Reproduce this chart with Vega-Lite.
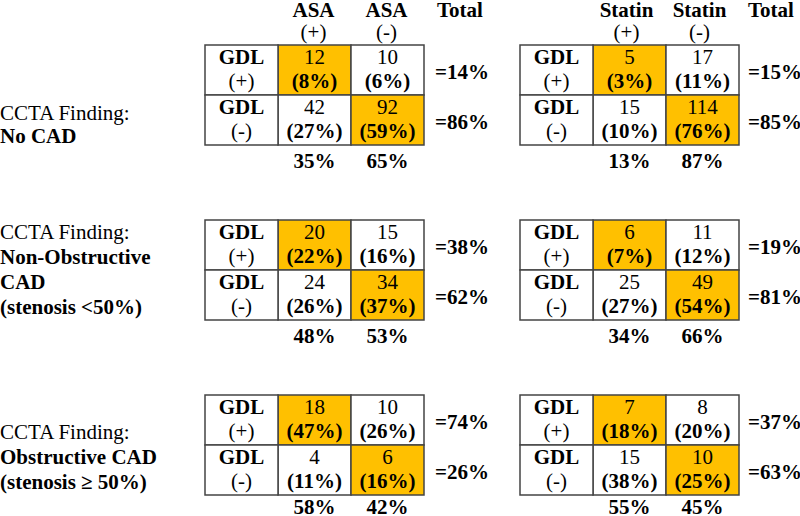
{
  "$schema": "https://vega.github.io/schema/vega-lite/v6.json",
  "padding": 0,
  "background": "white",
  "config": {
    "view": {"stroke": null},
    "axis": {"disable": true},
    "legend": {"disable": true},
    "scale": {"bandPaddingInner": 0, "bandPaddingOuter": 0, "rectBandPaddingInner": 0},
    "font": "Liberation Serif",
    "text": {"font": "Liberation Serif", "fontSize": 21, "fill": "#000000"},
    "concat": {"spacing": 0}
  },
  "datasets": {
    "tab": [
      {"finding": "No CAD", "drug": "ASA", "gdl": "+", "status": "+", "n": 12, "pct": 8},
      {"finding": "No CAD", "drug": "ASA", "gdl": "+", "status": "-", "n": 10, "pct": 6},
      {"finding": "No CAD", "drug": "ASA", "gdl": "-", "status": "+", "n": 42, "pct": 27},
      {"finding": "No CAD", "drug": "ASA", "gdl": "-", "status": "-", "n": 92, "pct": 59},
      {"finding": "No CAD", "drug": "ASA", "gdl": "+", "status": "Total", "pct": 14},
      {"finding": "No CAD", "drug": "ASA", "gdl": "-", "status": "Total", "pct": 86},
      {"finding": "No CAD", "drug": "ASA", "gdl": "Total", "status": "+", "pct": 35},
      {"finding": "No CAD", "drug": "ASA", "gdl": "Total", "status": "-", "pct": 65},
      {"finding": "No CAD", "drug": "Statin", "gdl": "+", "status": "+", "n": 5, "pct": 3},
      {"finding": "No CAD", "drug": "Statin", "gdl": "+", "status": "-", "n": 17, "pct": 11},
      {"finding": "No CAD", "drug": "Statin", "gdl": "-", "status": "+", "n": 15, "pct": 10},
      {"finding": "No CAD", "drug": "Statin", "gdl": "-", "status": "-", "n": 114, "pct": 76},
      {"finding": "No CAD", "drug": "Statin", "gdl": "+", "status": "Total", "pct": 15},
      {"finding": "No CAD", "drug": "Statin", "gdl": "-", "status": "Total", "pct": 85},
      {"finding": "No CAD", "drug": "Statin", "gdl": "Total", "status": "+", "pct": 13},
      {"finding": "No CAD", "drug": "Statin", "gdl": "Total", "status": "-", "pct": 87},
      {"finding": "Non-Obstructive CAD", "drug": "ASA", "gdl": "+", "status": "+", "n": 20, "pct": 22},
      {"finding": "Non-Obstructive CAD", "drug": "ASA", "gdl": "+", "status": "-", "n": 15, "pct": 16},
      {"finding": "Non-Obstructive CAD", "drug": "ASA", "gdl": "-", "status": "+", "n": 24, "pct": 26},
      {"finding": "Non-Obstructive CAD", "drug": "ASA", "gdl": "-", "status": "-", "n": 34, "pct": 37},
      {"finding": "Non-Obstructive CAD", "drug": "ASA", "gdl": "+", "status": "Total", "pct": 38},
      {"finding": "Non-Obstructive CAD", "drug": "ASA", "gdl": "-", "status": "Total", "pct": 62},
      {"finding": "Non-Obstructive CAD", "drug": "ASA", "gdl": "Total", "status": "+", "pct": 48},
      {"finding": "Non-Obstructive CAD", "drug": "ASA", "gdl": "Total", "status": "-", "pct": 53},
      {"finding": "Non-Obstructive CAD", "drug": "Statin", "gdl": "+", "status": "+", "n": 6, "pct": 7},
      {"finding": "Non-Obstructive CAD", "drug": "Statin", "gdl": "+", "status": "-", "n": 11, "pct": 12},
      {"finding": "Non-Obstructive CAD", "drug": "Statin", "gdl": "-", "status": "+", "n": 25, "pct": 27},
      {"finding": "Non-Obstructive CAD", "drug": "Statin", "gdl": "-", "status": "-", "n": 49, "pct": 54},
      {"finding": "Non-Obstructive CAD", "drug": "Statin", "gdl": "+", "status": "Total", "pct": 19},
      {"finding": "Non-Obstructive CAD", "drug": "Statin", "gdl": "-", "status": "Total", "pct": 81},
      {"finding": "Non-Obstructive CAD", "drug": "Statin", "gdl": "Total", "status": "+", "pct": 34},
      {"finding": "Non-Obstructive CAD", "drug": "Statin", "gdl": "Total", "status": "-", "pct": 66},
      {"finding": "Obstructive CAD", "drug": "ASA", "gdl": "+", "status": "+", "n": 18, "pct": 47},
      {"finding": "Obstructive CAD", "drug": "ASA", "gdl": "+", "status": "-", "n": 10, "pct": 26},
      {"finding": "Obstructive CAD", "drug": "ASA", "gdl": "-", "status": "+", "n": 4, "pct": 11},
      {"finding": "Obstructive CAD", "drug": "ASA", "gdl": "-", "status": "-", "n": 6, "pct": 16},
      {"finding": "Obstructive CAD", "drug": "ASA", "gdl": "+", "status": "Total", "pct": 74},
      {"finding": "Obstructive CAD", "drug": "ASA", "gdl": "-", "status": "Total", "pct": 26},
      {"finding": "Obstructive CAD", "drug": "ASA", "gdl": "Total", "status": "+", "pct": 58},
      {"finding": "Obstructive CAD", "drug": "ASA", "gdl": "Total", "status": "-", "pct": 42},
      {"finding": "Obstructive CAD", "drug": "Statin", "gdl": "+", "status": "+", "n": 7, "pct": 18},
      {"finding": "Obstructive CAD", "drug": "Statin", "gdl": "+", "status": "-", "n": 8, "pct": 20},
      {"finding": "Obstructive CAD", "drug": "Statin", "gdl": "-", "status": "+", "n": 15, "pct": 38},
      {"finding": "Obstructive CAD", "drug": "Statin", "gdl": "-", "status": "-", "n": 10, "pct": 25},
      {"finding": "Obstructive CAD", "drug": "Statin", "gdl": "+", "status": "Total", "pct": 37},
      {"finding": "Obstructive CAD", "drug": "Statin", "gdl": "-", "status": "Total", "pct": 63},
      {"finding": "Obstructive CAD", "drug": "Statin", "gdl": "Total", "status": "+", "pct": 55},
      {"finding": "Obstructive CAD", "drug": "Statin", "gdl": "Total", "status": "-", "pct": 45}
    ],
    "labels": [
      {"finding": "No CAD", "line": 1, "text": "CCTA Finding:"},
      {"finding": "No CAD", "line": 2, "text": "No CAD"},
      {"finding": "Non-Obstructive CAD", "line": 1, "text": "CCTA Finding:"},
      {"finding": "Non-Obstructive CAD", "line": 2, "text": "Non-Obstructive"},
      {"finding": "Non-Obstructive CAD", "line": 3, "text": "CAD"},
      {"finding": "Non-Obstructive CAD", "line": 4, "text": "(stenosis <50%)"},
      {"finding": "Obstructive CAD", "line": 1, "text": "CCTA Finding:"},
      {"finding": "Obstructive CAD", "line": 2, "text": "Obstructive CAD"},
      {"finding": "Obstructive CAD", "line": 3, "text": "(stenosis ≥ 50%)"}
    ],
    "columns": [
      {"drug": "ASA", "status": "+"},
      {"drug": "ASA", "status": "-"},
      {"drug": "ASA", "status": "Total"},
      {"drug": "Statin", "status": "+"},
      {"drug": "Statin", "status": "-"},
      {"drug": "Statin", "status": "Total"}
    ]
  },
  "spacing": 46,
  "vconcat": [
    {
      "spacing": 0,
      "vconcat": [
        {
          "spacing": 21,
          "hconcat": [
            {"width": 183, "height": 44, "data": {"values": []}, "mark": "point", "encoding": {}},
            {
              "spacing": 0,
              "hconcat": [
                {
                  "width": 219, "height": 44,
                  "data": {"name": "columns"},
                  "transform": [{"filter": "datum.drug === 'ASA' && datum.status !== 'Total'"}, {"calculate": "'(' + datum.status + ')'", "as": "sign"}],
                  "encoding": {"x": {"field": "status", "type": "nominal", "scale": {"type": "band", "domain": ["GDL", "+", "-"]}}},
                  "layer": [
                    {"mark": {"type": "text", "fontWeight": "bold"}, "encoding": {"y": {"datum": "name", "type": "nominal", "scale": {"type": "band", "domain": ["name", "sign"]}}, "text": {"field": "drug", "type": "nominal"}}},
                    {"mark": {"type": "text"}, "encoding": {"y": {"datum": "sign", "type": "nominal", "scale": {"type": "band", "domain": ["name", "sign"]}}, "text": {"field": "sign", "type": "nominal"}}}
                  ]
                },
                {
                  "width": 73, "height": 44,
                  "data": {"name": "columns"},
                  "transform": [{"filter": "datum.drug === 'ASA' && datum.status === 'Total'"}],
                  "mark": {"type": "text", "fontWeight": "bold", "align": "left", "dx": 14},
                  "encoding": {
                    "x": {"field": "status", "type": "nominal", "bandPosition": 0, "scale": {"type": "band"}},
                    "y": {"datum": "name", "type": "nominal", "scale": {"type": "band", "domain": ["name", "sign"]}},
                    "text": {"field": "status", "type": "nominal"}
                  }
                }
              ]
            },
            {
              "spacing": 0,
              "hconcat": [
                {
                  "width": 219, "height": 44,
                  "data": {"name": "columns"},
                  "transform": [{"filter": "datum.drug === 'Statin' && datum.status !== 'Total'"}, {"calculate": "'(' + datum.status + ')'", "as": "sign"}],
                  "encoding": {"x": {"field": "status", "type": "nominal", "scale": {"type": "band", "domain": ["GDL", "+", "-"]}}},
                  "layer": [
                    {"mark": {"type": "text", "fontWeight": "bold"}, "encoding": {"y": {"datum": "name", "type": "nominal", "scale": {"type": "band", "domain": ["name", "sign"]}}, "text": {"field": "drug", "type": "nominal"}}},
                    {"mark": {"type": "text"}, "encoding": {"y": {"datum": "sign", "type": "nominal", "scale": {"type": "band", "domain": ["name", "sign"]}}, "text": {"field": "sign", "type": "nominal"}}}
                  ]
                },
                {
                  "width": 64, "height": 44,
                  "data": {"name": "columns"},
                  "transform": [{"filter": "datum.drug === 'Statin' && datum.status === 'Total'"}],
                  "mark": {"type": "text", "fontWeight": "bold", "align": "left", "dx": 12},
                  "encoding": {
                    "x": {"field": "status", "type": "nominal", "bandPosition": 0, "scale": {"type": "band"}},
                    "y": {"datum": "name", "type": "nominal", "scale": {"type": "band", "domain": ["name", "sign"]}},
                    "text": {"field": "status", "type": "nominal"}
                  }
                }
              ]
            }
          ]
        },
        {
          "spacing": 21,
          "hconcat": [
            {
              "width": 183, "height": 100,
              "data": {"name": "labels"},
              "transform": [{"filter": "datum.finding === 'No CAD'"}],
              "encoding": {
                "x": {"datum": 0, "type": "quantitative", "scale": {"domain": [0, 1]}},
                "y": {"field": "line", "type": "ordinal", "scale": {"type": "band", "domain": [1, 2], "paddingInner": 0, "paddingOuter": 1, "align": 1}},
                "text": {"field": "text", "type": "nominal"}
              },
              "layer": [
                {"transform": [{"filter": "datum.line === 1"}], "mark": {"type": "text", "align": "left", "dy": 6}},
                {"transform": [{"filter": "datum.line > 1"}], "mark": {"type": "text", "align": "left", "fontWeight": "bold", "dy": 4}}
              ]
            },
            {
              "spacing": 0,
              "hconcat": [
                {
                  "spacing": 0,
                  "vconcat": [
                    {
                      "width": 219, "height": 100,
                      "data": {"name": "tab"},
                      "transform": [
                        {"filter": "datum.finding === 'No CAD' && datum.drug === 'ASA' && datum.gdl !== 'Total'"},
                        {"calculate": "'(' + datum.pct + '%)'", "as": "pctLabel"},
                        {"calculate": "'(' + datum.gdl + ')'", "as": "gdlLabel"}
                      ],
                      "encoding": {
                        "x": {"field": "status", "type": "nominal", "scale": {"type": "band", "domain": ["GDL", "+", "-"]}},
                        "y": {"field": "gdl", "type": "nominal", "scale": {"type": "band", "domain": ["+", "-"]}}
                      },
                      "layer": [
                        {"transform": [{"filter": "datum.status !== 'Total'"}], "mark": {"type": "rect", "stroke": "#444444", "strokeWidth": 1.5}, "encoding": {"fill": {"condition": {"test": "datum.gdl === datum.status", "value": "#FFC000"}, "value": "#FFFFFF"}}},
                        {"transform": [{"filter": "datum.status === 'Total'"}], "mark": {"type": "rect", "fill": "#FFFFFF", "stroke": "#444444", "strokeWidth": 1.5}, "encoding": {"x": {"datum": "GDL", "type": "nominal"}}},
                        {"transform": [{"filter": "datum.status !== 'Total'"}], "mark": {"type": "text", "dy": -12}, "encoding": {"text": {"field": "n", "type": "nominal"}}},
                        {"transform": [{"filter": "datum.status !== 'Total'"}], "mark": {"type": "text", "dy": 12, "fontWeight": "bold"}, "encoding": {"text": {"field": "pctLabel", "type": "nominal"}}},
                        {"transform": [{"filter": "datum.status === 'Total'"}], "mark": {"type": "text", "dy": -12, "fontWeight": "bold"}, "encoding": {"x": {"datum": "GDL", "type": "nominal"}, "text": {"value": "GDL"}}},
                        {"transform": [{"filter": "datum.status === 'Total'"}], "mark": {"type": "text", "dy": 12}, "encoding": {"x": {"datum": "GDL", "type": "nominal"}, "text": {"field": "gdlLabel", "type": "nominal"}}}
                      ]
                    },
                    {
                      "width": 219, "height": 27,
                      "data": {"name": "tab"},
                      "transform": [{"filter": "datum.finding === 'No CAD' && datum.drug === 'ASA' && datum.gdl === 'Total'"}, {"calculate": "datum.pct + '%'", "as": "label"}],
                      "mark": {"type": "text", "fontWeight": "bold", "dy": 2},
                      "encoding": {
                        "x": {"field": "status", "type": "nominal", "scale": {"type": "band", "domain": ["GDL", "+", "-"]}},
                        "y": {"datum": "Total", "type": "nominal", "scale": {"type": "band"}},
                        "text": {"field": "label", "type": "nominal"}
                      }
                    }
                  ]
                },
                {
                  "width": 73, "height": 100,
                  "data": {"name": "tab"},
                  "transform": [{"filter": "datum.finding === 'No CAD' && datum.drug === 'ASA' && datum.status === 'Total'"}, {"calculate": "'=' + datum.pct + '%'", "as": "label"}],
                  "mark": {"type": "text", "fontWeight": "bold", "align": "left", "dx": 10, "dy": 3},
                  "encoding": {
                    "x": {"field": "status", "type": "nominal", "bandPosition": 0, "scale": {"type": "band"}},
                    "y": {"field": "gdl", "type": "nominal", "scale": {"type": "band", "domain": ["+", "-"]}},
                    "text": {"field": "label", "type": "nominal"}
                  }
                }
              ]
            },
            {
              "spacing": 0,
              "hconcat": [
                {
                  "spacing": 0,
                  "vconcat": [
                    {
                      "width": 219, "height": 100,
                      "data": {"name": "tab"},
                      "transform": [
                        {"filter": "datum.finding === 'No CAD' && datum.drug === 'Statin' && datum.gdl !== 'Total'"},
                        {"calculate": "'(' + datum.pct + '%)'", "as": "pctLabel"},
                        {"calculate": "'(' + datum.gdl + ')'", "as": "gdlLabel"}
                      ],
                      "encoding": {
                        "x": {"field": "status", "type": "nominal", "scale": {"type": "band", "domain": ["GDL", "+", "-"]}},
                        "y": {"field": "gdl", "type": "nominal", "scale": {"type": "band", "domain": ["+", "-"]}}
                      },
                      "layer": [
                        {"transform": [{"filter": "datum.status !== 'Total'"}], "mark": {"type": "rect", "stroke": "#444444", "strokeWidth": 1.5}, "encoding": {"fill": {"condition": {"test": "datum.gdl === datum.status", "value": "#FFC000"}, "value": "#FFFFFF"}}},
                        {"transform": [{"filter": "datum.status === 'Total'"}], "mark": {"type": "rect", "fill": "#FFFFFF", "stroke": "#444444", "strokeWidth": 1.5}, "encoding": {"x": {"datum": "GDL", "type": "nominal"}}},
                        {"transform": [{"filter": "datum.status !== 'Total'"}], "mark": {"type": "text", "dy": -12}, "encoding": {"text": {"field": "n", "type": "nominal"}}},
                        {"transform": [{"filter": "datum.status !== 'Total'"}], "mark": {"type": "text", "dy": 12, "fontWeight": "bold"}, "encoding": {"text": {"field": "pctLabel", "type": "nominal"}}},
                        {"transform": [{"filter": "datum.status === 'Total'"}], "mark": {"type": "text", "dy": -12, "fontWeight": "bold"}, "encoding": {"x": {"datum": "GDL", "type": "nominal"}, "text": {"value": "GDL"}}},
                        {"transform": [{"filter": "datum.status === 'Total'"}], "mark": {"type": "text", "dy": 12}, "encoding": {"x": {"datum": "GDL", "type": "nominal"}, "text": {"field": "gdlLabel", "type": "nominal"}}}
                      ]
                    },
                    {
                      "width": 219, "height": 27,
                      "data": {"name": "tab"},
                      "transform": [{"filter": "datum.finding === 'No CAD' && datum.drug === 'Statin' && datum.gdl === 'Total'"}, {"calculate": "datum.pct + '%'", "as": "label"}],
                      "mark": {"type": "text", "fontWeight": "bold", "dy": 2},
                      "encoding": {
                        "x": {"field": "status", "type": "nominal", "scale": {"type": "band", "domain": ["GDL", "+", "-"]}},
                        "y": {"datum": "Total", "type": "nominal", "scale": {"type": "band"}},
                        "text": {"field": "label", "type": "nominal"}
                      }
                    }
                  ]
                },
                {
                  "width": 64, "height": 100,
                  "data": {"name": "tab"},
                  "transform": [{"filter": "datum.finding === 'No CAD' && datum.drug === 'Statin' && datum.status === 'Total'"}, {"calculate": "'=' + datum.pct + '%'", "as": "label"}],
                  "mark": {"type": "text", "fontWeight": "bold", "align": "left", "dx": 8, "dy": 3},
                  "encoding": {
                    "x": {"field": "status", "type": "nominal", "bandPosition": 0, "scale": {"type": "band"}},
                    "y": {"field": "gdl", "type": "nominal", "scale": {"type": "band", "domain": ["+", "-"]}},
                    "text": {"field": "label", "type": "nominal"}
                  }
                }
              ]
            }
          ]
        }
      ]
    },
    {
      "spacing": 21,
      "hconcat": [
        {
          "width": 183, "height": 100,
          "data": {"name": "labels"},
          "transform": [{"filter": "datum.finding === 'Non-Obstructive CAD'"}],
          "encoding": {
            "x": {"datum": 0, "type": "quantitative", "scale": {"domain": [0, 1]}},
            "y": {"field": "line", "type": "ordinal", "scale": {"type": "band", "domain": [1, 2, 3, 4], "paddingInner": 0, "paddingOuter": 0, "align": 1}},
            "text": {"field": "text", "type": "nominal"}
          },
          "layer": [
            {"transform": [{"filter": "datum.line === 1"}], "mark": {"type": "text", "align": "left"}},
            {"transform": [{"filter": "datum.line > 1"}], "mark": {"type": "text", "align": "left", "fontWeight": "bold"}}
          ]
        },
        {
          "spacing": 0,
          "hconcat": [
            {
              "spacing": 0,
              "vconcat": [
                {
                  "width": 219, "height": 100,
                  "data": {"name": "tab"},
                  "transform": [
                    {"filter": "datum.finding === 'Non-Obstructive CAD' && datum.drug === 'ASA' && datum.gdl !== 'Total'"},
                    {"calculate": "'(' + datum.pct + '%)'", "as": "pctLabel"},
                    {"calculate": "'(' + datum.gdl + ')'", "as": "gdlLabel"}
                  ],
                  "encoding": {
                    "x": {"field": "status", "type": "nominal", "scale": {"type": "band", "domain": ["GDL", "+", "-"]}},
                    "y": {"field": "gdl", "type": "nominal", "scale": {"type": "band", "domain": ["+", "-"]}}
                  },
                  "layer": [
                    {"transform": [{"filter": "datum.status !== 'Total'"}], "mark": {"type": "rect", "stroke": "#444444", "strokeWidth": 1.5}, "encoding": {"fill": {"condition": {"test": "datum.gdl === datum.status", "value": "#FFC000"}, "value": "#FFFFFF"}}},
                    {"transform": [{"filter": "datum.status === 'Total'"}], "mark": {"type": "rect", "fill": "#FFFFFF", "stroke": "#444444", "strokeWidth": 1.5}, "encoding": {"x": {"datum": "GDL", "type": "nominal"}}},
                    {"transform": [{"filter": "datum.status !== 'Total'"}], "mark": {"type": "text", "dy": -12}, "encoding": {"text": {"field": "n", "type": "nominal"}}},
                    {"transform": [{"filter": "datum.status !== 'Total'"}], "mark": {"type": "text", "dy": 12, "fontWeight": "bold"}, "encoding": {"text": {"field": "pctLabel", "type": "nominal"}}},
                    {"transform": [{"filter": "datum.status === 'Total'"}], "mark": {"type": "text", "dy": -12, "fontWeight": "bold"}, "encoding": {"x": {"datum": "GDL", "type": "nominal"}, "text": {"value": "GDL"}}},
                    {"transform": [{"filter": "datum.status === 'Total'"}], "mark": {"type": "text", "dy": 12}, "encoding": {"x": {"datum": "GDL", "type": "nominal"}, "text": {"field": "gdlLabel", "type": "nominal"}}}
                  ]
                },
                {
                  "width": 219, "height": 27,
                  "data": {"name": "tab"},
                  "transform": [{"filter": "datum.finding === 'Non-Obstructive CAD' && datum.drug === 'ASA' && datum.gdl === 'Total'"}, {"calculate": "datum.pct + '%'", "as": "label"}],
                  "mark": {"type": "text", "fontWeight": "bold", "dy": 2},
                  "encoding": {
                    "x": {"field": "status", "type": "nominal", "scale": {"type": "band", "domain": ["GDL", "+", "-"]}},
                    "y": {"datum": "Total", "type": "nominal", "scale": {"type": "band"}},
                    "text": {"field": "label", "type": "nominal"}
                  }
                }
              ]
            },
            {
              "width": 73, "height": 100,
              "data": {"name": "tab"},
              "transform": [{"filter": "datum.finding === 'Non-Obstructive CAD' && datum.drug === 'ASA' && datum.status === 'Total'"}, {"calculate": "'=' + datum.pct + '%'", "as": "label"}],
              "mark": {"type": "text", "fontWeight": "bold", "align": "left", "dx": 10, "dy": 3},
              "encoding": {
                "x": {"field": "status", "type": "nominal", "bandPosition": 0, "scale": {"type": "band"}},
                "y": {"field": "gdl", "type": "nominal", "scale": {"type": "band", "domain": ["+", "-"]}},
                "text": {"field": "label", "type": "nominal"}
              }
            }
          ]
        },
        {
          "spacing": 0,
          "hconcat": [
            {
              "spacing": 0,
              "vconcat": [
                {
                  "width": 219, "height": 100,
                  "data": {"name": "tab"},
                  "transform": [
                    {"filter": "datum.finding === 'Non-Obstructive CAD' && datum.drug === 'Statin' && datum.gdl !== 'Total'"},
                    {"calculate": "'(' + datum.pct + '%)'", "as": "pctLabel"},
                    {"calculate": "'(' + datum.gdl + ')'", "as": "gdlLabel"}
                  ],
                  "encoding": {
                    "x": {"field": "status", "type": "nominal", "scale": {"type": "band", "domain": ["GDL", "+", "-"]}},
                    "y": {"field": "gdl", "type": "nominal", "scale": {"type": "band", "domain": ["+", "-"]}}
                  },
                  "layer": [
                    {"transform": [{"filter": "datum.status !== 'Total'"}], "mark": {"type": "rect", "stroke": "#444444", "strokeWidth": 1.5}, "encoding": {"fill": {"condition": {"test": "datum.gdl === datum.status", "value": "#FFC000"}, "value": "#FFFFFF"}}},
                    {"transform": [{"filter": "datum.status === 'Total'"}], "mark": {"type": "rect", "fill": "#FFFFFF", "stroke": "#444444", "strokeWidth": 1.5}, "encoding": {"x": {"datum": "GDL", "type": "nominal"}}},
                    {"transform": [{"filter": "datum.status !== 'Total'"}], "mark": {"type": "text", "dy": -12}, "encoding": {"text": {"field": "n", "type": "nominal"}}},
                    {"transform": [{"filter": "datum.status !== 'Total'"}], "mark": {"type": "text", "dy": 12, "fontWeight": "bold"}, "encoding": {"text": {"field": "pctLabel", "type": "nominal"}}},
                    {"transform": [{"filter": "datum.status === 'Total'"}], "mark": {"type": "text", "dy": -12, "fontWeight": "bold"}, "encoding": {"x": {"datum": "GDL", "type": "nominal"}, "text": {"value": "GDL"}}},
                    {"transform": [{"filter": "datum.status === 'Total'"}], "mark": {"type": "text", "dy": 12}, "encoding": {"x": {"datum": "GDL", "type": "nominal"}, "text": {"field": "gdlLabel", "type": "nominal"}}}
                  ]
                },
                {
                  "width": 219, "height": 27,
                  "data": {"name": "tab"},
                  "transform": [{"filter": "datum.finding === 'Non-Obstructive CAD' && datum.drug === 'Statin' && datum.gdl === 'Total'"}, {"calculate": "datum.pct + '%'", "as": "label"}],
                  "mark": {"type": "text", "fontWeight": "bold", "dy": 2},
                  "encoding": {
                    "x": {"field": "status", "type": "nominal", "scale": {"type": "band", "domain": ["GDL", "+", "-"]}},
                    "y": {"datum": "Total", "type": "nominal", "scale": {"type": "band"}},
                    "text": {"field": "label", "type": "nominal"}
                  }
                }
              ]
            },
            {
              "width": 64, "height": 100,
              "data": {"name": "tab"},
              "transform": [{"filter": "datum.finding === 'Non-Obstructive CAD' && datum.drug === 'Statin' && datum.status === 'Total'"}, {"calculate": "'=' + datum.pct + '%'", "as": "label"}],
              "mark": {"type": "text", "fontWeight": "bold", "align": "left", "dx": 8, "dy": 3},
              "encoding": {
                "x": {"field": "status", "type": "nominal", "bandPosition": 0, "scale": {"type": "band"}},
                "y": {"field": "gdl", "type": "nominal", "scale": {"type": "band", "domain": ["+", "-"]}},
                "text": {"field": "label", "type": "nominal"}
              }
            }
          ]
        }
      ]
    },
    {
      "spacing": 21,
      "hconcat": [
        {
          "width": 183, "height": 100,
          "data": {"name": "labels"},
          "transform": [{"filter": "datum.finding === 'Obstructive CAD'"}],
          "encoding": {
            "x": {"datum": 0, "type": "quantitative", "scale": {"domain": [0, 1]}},
            "y": {"field": "line", "type": "ordinal", "scale": {"type": "band", "domain": [1, 2, 3], "paddingInner": 0, "paddingOuter": 0.5, "align": 1}},
            "text": {"field": "text", "type": "nominal"}
          },
          "layer": [
            {"transform": [{"filter": "datum.line === 1"}], "mark": {"type": "text", "align": "left"}},
            {"transform": [{"filter": "datum.line > 1"}], "mark": {"type": "text", "align": "left", "fontWeight": "bold"}}
          ]
        },
        {
          "spacing": 0,
          "hconcat": [
            {
              "spacing": 0,
              "vconcat": [
                {
                  "width": 219, "height": 100,
                  "data": {"name": "tab"},
                  "transform": [
                    {"filter": "datum.finding === 'Obstructive CAD' && datum.drug === 'ASA' && datum.gdl !== 'Total'"},
                    {"calculate": "'(' + datum.pct + '%)'", "as": "pctLabel"},
                    {"calculate": "'(' + datum.gdl + ')'", "as": "gdlLabel"}
                  ],
                  "encoding": {
                    "x": {"field": "status", "type": "nominal", "scale": {"type": "band", "domain": ["GDL", "+", "-"]}},
                    "y": {"field": "gdl", "type": "nominal", "scale": {"type": "band", "domain": ["+", "-"]}}
                  },
                  "layer": [
                    {"transform": [{"filter": "datum.status !== 'Total'"}], "mark": {"type": "rect", "stroke": "#444444", "strokeWidth": 1.5}, "encoding": {"fill": {"condition": {"test": "datum.gdl === datum.status", "value": "#FFC000"}, "value": "#FFFFFF"}}},
                    {"transform": [{"filter": "datum.status === 'Total'"}], "mark": {"type": "rect", "fill": "#FFFFFF", "stroke": "#444444", "strokeWidth": 1.5}, "encoding": {"x": {"datum": "GDL", "type": "nominal"}}},
                    {"transform": [{"filter": "datum.status !== 'Total'"}], "mark": {"type": "text", "dy": -12}, "encoding": {"text": {"field": "n", "type": "nominal"}}},
                    {"transform": [{"filter": "datum.status !== 'Total'"}], "mark": {"type": "text", "dy": 12, "fontWeight": "bold"}, "encoding": {"text": {"field": "pctLabel", "type": "nominal"}}},
                    {"transform": [{"filter": "datum.status === 'Total'"}], "mark": {"type": "text", "dy": -12, "fontWeight": "bold"}, "encoding": {"x": {"datum": "GDL", "type": "nominal"}, "text": {"value": "GDL"}}},
                    {"transform": [{"filter": "datum.status === 'Total'"}], "mark": {"type": "text", "dy": 12}, "encoding": {"x": {"datum": "GDL", "type": "nominal"}, "text": {"field": "gdlLabel", "type": "nominal"}}}
                  ]
                },
                {
                  "width": 219, "height": 21,
                  "data": {"name": "tab"},
                  "transform": [{"filter": "datum.finding === 'Obstructive CAD' && datum.drug === 'ASA' && datum.gdl === 'Total'"}, {"calculate": "datum.pct + '%'", "as": "label"}],
                  "mark": {"type": "text", "fontWeight": "bold"},
                  "encoding": {
                    "x": {"field": "status", "type": "nominal", "scale": {"type": "band", "domain": ["GDL", "+", "-"]}},
                    "y": {"datum": "Total", "type": "nominal", "scale": {"type": "band"}},
                    "text": {"field": "label", "type": "nominal"}
                  }
                }
              ]
            },
            {
              "width": 73, "height": 100,
              "data": {"name": "tab"},
              "transform": [{"filter": "datum.finding === 'Obstructive CAD' && datum.drug === 'ASA' && datum.status === 'Total'"}, {"calculate": "'=' + datum.pct + '%'", "as": "label"}],
              "mark": {"type": "text", "fontWeight": "bold", "align": "left", "dx": 10, "dy": 3},
              "encoding": {
                "x": {"field": "status", "type": "nominal", "bandPosition": 0, "scale": {"type": "band"}},
                "y": {"field": "gdl", "type": "nominal", "scale": {"type": "band", "domain": ["+", "-"]}},
                "text": {"field": "label", "type": "nominal"}
              }
            }
          ]
        },
        {
          "spacing": 0,
          "hconcat": [
            {
              "spacing": 0,
              "vconcat": [
                {
                  "width": 219, "height": 100,
                  "data": {"name": "tab"},
                  "transform": [
                    {"filter": "datum.finding === 'Obstructive CAD' && datum.drug === 'Statin' && datum.gdl !== 'Total'"},
                    {"calculate": "'(' + datum.pct + '%)'", "as": "pctLabel"},
                    {"calculate": "'(' + datum.gdl + ')'", "as": "gdlLabel"}
                  ],
                  "encoding": {
                    "x": {"field": "status", "type": "nominal", "scale": {"type": "band", "domain": ["GDL", "+", "-"]}},
                    "y": {"field": "gdl", "type": "nominal", "scale": {"type": "band", "domain": ["+", "-"]}}
                  },
                  "layer": [
                    {"transform": [{"filter": "datum.status !== 'Total'"}], "mark": {"type": "rect", "stroke": "#444444", "strokeWidth": 1.5}, "encoding": {"fill": {"condition": {"test": "datum.gdl === datum.status", "value": "#FFC000"}, "value": "#FFFFFF"}}},
                    {"transform": [{"filter": "datum.status === 'Total'"}], "mark": {"type": "rect", "fill": "#FFFFFF", "stroke": "#444444", "strokeWidth": 1.5}, "encoding": {"x": {"datum": "GDL", "type": "nominal"}}},
                    {"transform": [{"filter": "datum.status !== 'Total'"}], "mark": {"type": "text", "dy": -12}, "encoding": {"text": {"field": "n", "type": "nominal"}}},
                    {"transform": [{"filter": "datum.status !== 'Total'"}], "mark": {"type": "text", "dy": 12, "fontWeight": "bold"}, "encoding": {"text": {"field": "pctLabel", "type": "nominal"}}},
                    {"transform": [{"filter": "datum.status === 'Total'"}], "mark": {"type": "text", "dy": -12, "fontWeight": "bold"}, "encoding": {"x": {"datum": "GDL", "type": "nominal"}, "text": {"value": "GDL"}}},
                    {"transform": [{"filter": "datum.status === 'Total'"}], "mark": {"type": "text", "dy": 12}, "encoding": {"x": {"datum": "GDL", "type": "nominal"}, "text": {"field": "gdlLabel", "type": "nominal"}}}
                  ]
                },
                {
                  "width": 219, "height": 21,
                  "data": {"name": "tab"},
                  "transform": [{"filter": "datum.finding === 'Obstructive CAD' && datum.drug === 'Statin' && datum.gdl === 'Total'"}, {"calculate": "datum.pct + '%'", "as": "label"}],
                  "mark": {"type": "text", "fontWeight": "bold"},
                  "encoding": {
                    "x": {"field": "status", "type": "nominal", "scale": {"type": "band", "domain": ["GDL", "+", "-"]}},
                    "y": {"datum": "Total", "type": "nominal", "scale": {"type": "band"}},
                    "text": {"field": "label", "type": "nominal"}
                  }
                }
              ]
            },
            {
              "width": 64, "height": 100,
              "data": {"name": "tab"},
              "transform": [{"filter": "datum.finding === 'Obstructive CAD' && datum.drug === 'Statin' && datum.status === 'Total'"}, {"calculate": "'=' + datum.pct + '%'", "as": "label"}],
              "mark": {"type": "text", "fontWeight": "bold", "align": "left", "dx": 8, "dy": 3},
              "encoding": {
                "x": {"field": "status", "type": "nominal", "bandPosition": 0, "scale": {"type": "band"}},
                "y": {"field": "gdl", "type": "nominal", "scale": {"type": "band", "domain": ["+", "-"]}},
                "text": {"field": "label", "type": "nominal"}
              }
            }
          ]
        }
      ]
    }
  ]
}
